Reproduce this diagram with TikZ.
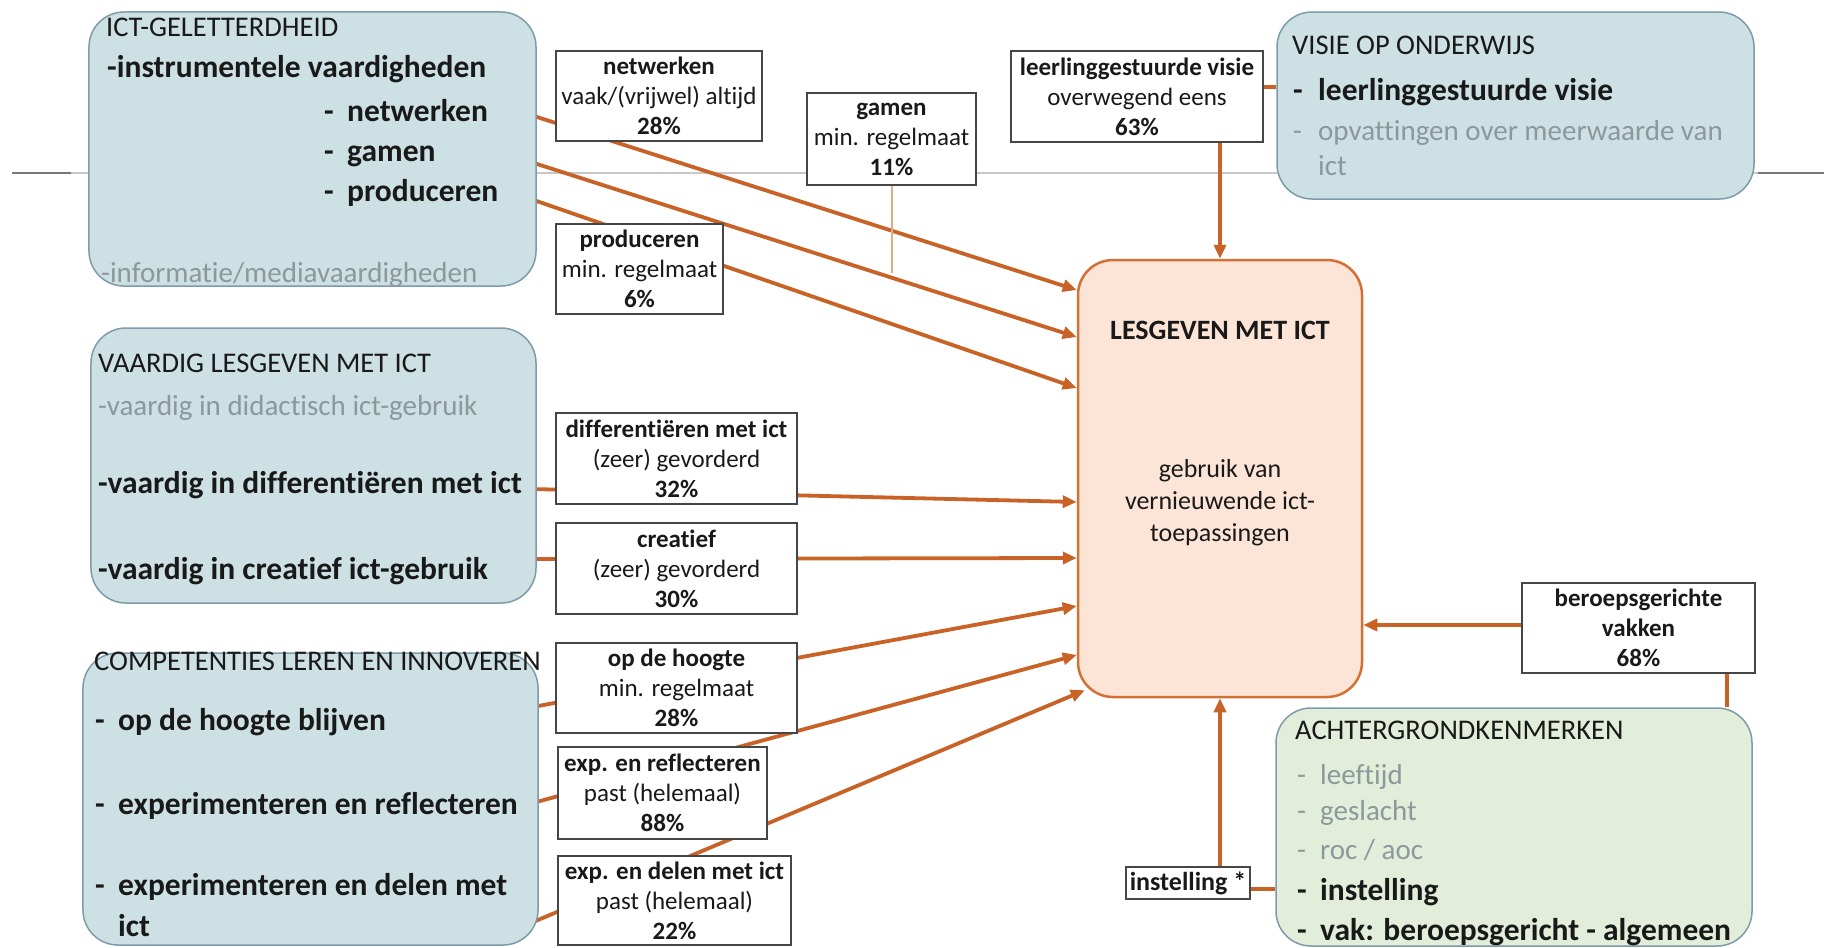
\documentclass[tikz,border=0pt]{standalone}
\usepackage{fontspec}
\setmainfont{Carlito}[Ligatures=NoCommon]
\usetikzlibrary{arrows.meta,calc}
\definecolor{bluefill}{RGB}{205,224,227}
\definecolor{greenfill}{RGB}{226,238,218}
\definecolor{boxline}{RGB}{125,155,170}
\definecolor{lesfill}{RGB}{252,229,215}
\definecolor{lesline}{RGB}{212,112,52}
\definecolor{arrowc}{RGB}{200,98,38}
\definecolor{lblline}{RGB}{70,70,70}
\definecolor{txt}{RGB}{25,25,25}
\definecolor{graytxt}{RGB}{140,152,155}
\definecolor{hdark}{RGB}{120,120,120}
\definecolor{hlight}{RGB}{200,200,200}
\definecolor{thinor}{RGB}{226,172,138}
\pgfdeclarelayer{back}
\pgfdeclarelayer{mid}
\pgfsetlayers{back,mid,main}
\newcommand\mydash{\makebox[23bp][l]{-}}
\begin{document}
\begin{tikzpicture}[x=1bp,y=-1bp,
  rbox/.style={draw=boxline, line width=1.5bp, rounded corners=35bp, inner sep=0pt, fill=bluefill},
  lbl/.style={draw=lblline, fill=white, line width=1.8bp, inner sep=0pt, align=center, text=txt, font=\fontsize{25bp}{30bp}\selectfont},
  conn/.style={draw=arrowc, line width=3.8bp},
  arr/.style={conn, -{Triangle[length=14bp,width=12bp]}},
  hd/.style={anchor=base west, inner sep=0pt, text=txt, font=\fontsize{28.5bp}{30bp}\selectfont},
  ib/.style={anchor=base west, inner sep=0pt, text=txt, font=\bfseries\fontsize{31.5bp}{34bp}\selectfont},
  ig/.style={anchor=base west, inner sep=0pt, text=graytxt, font=\fontsize{29bp}{34bp}\selectfont},
]
\useasboundingbox (0,0) rectangle (1836,947);
\begin{pgfonlayer}{back}
\fill[white] (0,0) rectangle (1836,947);
\draw[hlight, line width=2bp] (71,173) -- (1758,173);
\draw[hdark, line width=2bp] (12,173) -- (71,173);
\draw[hdark, line width=2bp] (1758,173) -- (1824,173);
\end{pgfonlayer}

% rounded boxes
\node[rbox, minimum width=447bp, minimum height=274bp] (ict) at (312.5,149) {};
\node[rbox, minimum width=445bp, minimum height=275bp] (vaa) at (313.5,465.5) {};
\node[rbox, minimum width=455bp, minimum height=292bp] (comp) at (310.5,799) {};
\node[rbox, minimum width=477bp, minimum height=187bp] (vis) at (1515.5,105.5) {};
\node[rbox, fill=greenfill, minimum width=476bp, minimum height=238bp] (ach) at (1514,827) {};
\node[draw=lesline, fill=lesfill, line width=2.5bp, rounded corners=35bp, minimum width=284bp, minimum height=437bp, inner sep=0pt] (les) at (1220,478.5) {};

% texts in ICT box
\node[hd] at (106,36) {ICT-GELETTERDHEID};
\node[ib] at (107,77) {-instrumentele vaardigheden};
\node[ib] at (324,121) {\mydash netwerken};
\node[ib] at (324,161) {\mydash gamen};
\node[ib] at (324,201) {\mydash produceren};
\node[ig] at (101,282) {-informatie/mediavaardigheden};

% texts in VAARDIG box
\node[hd] at (98,372) {VAARDIG LESGEVEN MET ICT};
\node[ig] at (98,415) {-vaardig in didactisch ict-gebruik};
\node[ib] at (98,493) {-vaardig in differentiëren met ict};
\node[ib] at (98,579) {-vaardig in creatief ict-gebruik};

% texts in COMPETENTIES box
\node[hd] at (94,670) {COMPETENTIES LEREN EN INNOVEREN};
\node[ib] at (95,730) {\mydash op de hoogte blijven};
\node[ib] at (95,814) {\mydash experimenteren en reflecteren};
\node[ib] at (95,895) {\mydash experimenteren en delen met};
\node[ib] at (118,936) {ict};

% texts in VISIE box
\node[hd] at (1292,54) {VISIE OP ONDERWIJS};
\node[ib] at (1293,100) {\makebox[25bp][l]{-}leerlinggestuurde visie};
\node[ig] at (1293,140) {\makebox[25bp][l]{-}opvattingen over meerwaarde van};
\node[ig] at (1318,175) {ict};

% texts in ACHTERGROND box
\node[hd] at (1295,739) {ACHTERGRONDKENMERKEN};
\node[ig] at (1297,784) {\mydash leeftijd};
\node[ig] at (1297,820) {\mydash geslacht};
\node[ig] at (1297,859) {\mydash roc / aoc};
\node[ib] at (1297,900) {\mydash instelling};
\node[ib] at (1297,940) {\mydash vak: beroepsgericht - algemeen};

% LESGEVEN texts
\node[anchor=base, inner sep=0pt, text=txt, font=\bfseries\fontsize{28bp}{30bp}\selectfont] at (1220,339) {LESGEVEN MET ICT};
\node[anchor=base, inner sep=0pt, text=txt, font=\fontsize{26bp}{30bp}\selectfont] at (1220,477) {gebruik van};
\node[anchor=base, inner sep=0pt, text=txt, font=\fontsize{26bp}{30bp}\selectfont] at (1220,509) {vernieuwende ict-};
\node[anchor=base, inner sep=0pt, text=txt, font=\fontsize{26bp}{30bp}\selectfont] at (1220,541) {toepassingen};

% label boxes
\node[lbl, minimum width=206bp, minimum height=90bp] (nw) at (659,96) {\textbf{netwerken}\\vaak/(vrijwel) altijd\\\textbf{28\%}};
\node[lbl, minimum width=169bp, minimum height=92bp] (gam) at (891.5,139) {\textbf{gamen}\\min. regelmaat\\\textbf{11\%}};
\node[lbl, minimum width=252bp, minimum height=91bp] (llg) at (1137,96.5) {\textbf{leerlinggestuurde visie}\\overwegend eens\\\textbf{63\%}};
\node[lbl, minimum width=167bp, minimum height=90bp] (pro) at (639.5,269) {\textbf{produceren}\\min. regelmaat\\\textbf{6\%}};
\node[lbl, minimum width=241bp, minimum height=91bp] (dif) at (676.5,458.5) {\textbf{differentiëren met ict}\\(zeer) gevorderd\\\textbf{32\%}};
\node[lbl, minimum width=241bp, minimum height=91bp] (cre) at (676.5,568.5) {\textbf{creatief}\\(zeer) gevorderd\\\textbf{30\%}};
\node[lbl, minimum width=241bp, minimum height=90bp] (hoo) at (676.5,688) {\textbf{op de hoogte}\\min. regelmaat\\\textbf{28\%}};
\node[lbl, minimum width=209bp, minimum height=92bp] (ref) at (662.5,793) {\textbf{exp. en reflecteren}\\past (helemaal)\\\textbf{88\%}};
\node[lbl, minimum width=233bp, minimum height=89bp] (del) at (674.5,900.5) {\textbf{exp. en delen met ict}\\past (helemaal)\\\textbf{22\%}};
\node[lbl, minimum width=233bp, minimum height=90bp] (ber) at (1638.5,628) {\textbf{beroepsgerichte}\\\textbf{vakken}\\\textbf{68\%}};
\node[lbl, minimum width=124bp, minimum height=32bp, font=\bfseries\fontsize{26bp}{30bp}\selectfont] (ins) at (1188,883) {instelling *};

% connectors
\begin{pgfonlayer}{mid}
\draw[arr] ($(ict.east |- 0,115)+(-6,0)$) -- (les.west |- 0,290);
\draw[arr] ($(ict.east |- 0,162)+(-6,0)$) -- (les.west |- 0,337);
\draw[arr] ($(ict.east |- 0,199)+(-6,0)$) -- (les.west |- 0,388);
\draw[arr] ($(vaa.east |- 0,489)+(-6,0)$) -- (les.west |- 0,502);
\draw[arr] ($(vaa.east |- 0,559)+(-6,0)$) -- (les.west |- 0,558);
\draw[arr] ($(comp.east |- 0,707)+(-6,0)$) -- (les.west |- 0,606);
\draw[arr] ($(comp.east |- 0,803)+(-6,0)$) -- (les.west |- 0,655);
\draw[arr] ($(comp.east |- 0,923)+(-8,0)$) -- ($(les.south west)+(8,-8)$);
\draw[conn] (llg.east |- 0,87) -- (vis.west |- 0,87);
\draw[arr] (llg.south -| les.north) -- (les.north);
\draw[arr] (ber.west |- 0,625) -- (les.east |- 0,625);
\draw[conn] (ber.south -| 1727,0) -- (ach.north -| 1727,0);
\draw[conn] (ins.east |- 0,889) -- (ach.west |- 0,889);
\draw[arr] (ins.north -| les.south) -- (les.south);
\draw[thinor, line width=2bp] (gam.south) -- (gam.south |- 0,273);
\end{pgfonlayer}
\end{tikzpicture}
\end{document}
